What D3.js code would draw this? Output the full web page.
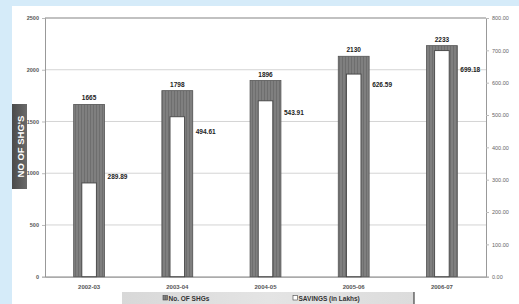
<!DOCTYPE html>
<html>
<head>
<meta charset="utf-8">
<script src="https://cdn.jsdelivr.net/npm/d3@7"></script>
<style>
html,body{margin:0;padding:0;background:#d5ebf9;}
svg{display:block;font-family:"Liberation Sans",Arial,sans-serif;}
</style>
</head>
<body>
<svg id="c" width="519" height="304"></svg>
<script>
const categories = ["2002-03","2003-04","2004-05","2005-06","2006-07"];
const shgs = [1665, 1798, 1896, 2130, 2233];
const savings = [289.89, 494.61, 543.91, 626.59, 699.18];
const leftTicks = [0, 500, 1000, 1500, 2000, 2500];
const rightTicks = [0, 100, 200, 300, 400, 500, 600, 700, 800];
const seriesNames = ["No. OF SHGs", "SAVINGS (in Lakhs)"];
const yTitle = "NO OF SHG'S";

const svg = d3.select("#c");
const W = 519, H = 304;
const m = {l:45, r:486, t:18, b:276.7};

// panel
svg.append("rect").attr("x",12).attr("y",6).attr("width",W-12).attr("height",H-6).attr("fill","#fff");

const defs = svg.append("defs");
const pat = defs.append("pattern").attr("id","stripe").attr("patternUnits","userSpaceOnUse")
  .attr("width",3).attr("height",4);
pat.append("rect").attr("width",3).attr("height",4).attr("fill","#7f7f7f");
pat.append("rect").attr("width",1).attr("height",4).attr("fill","#6e6e6e");
const lg = defs.append("linearGradient").attr("id","tg").attr("x1",0).attr("x2",1).attr("y1",0).attr("y2",0);
lg.append("stop").attr("offset","0").attr("stop-color","#4a4a4a");
lg.append("stop").attr("offset","1").attr("stop-color","#6a6a6a");
const lg2 = defs.append("linearGradient").attr("id","lgd").attr("x1",0).attr("x2",1).attr("y1",0).attr("y2",0);
lg2.append("stop").attr("offset","0").attr("stop-color","#d8d8d8");
lg2.append("stop").attr("offset","0.5").attr("stop-color","#e4e4e4");
lg2.append("stop").attr("offset","1").attr("stop-color","#dcdcdc");

const x = d3.scaleBand().domain(categories).range([m.l, m.r]).padding(0);
const yL = d3.scaleLinear().domain([0,2500]).range([m.b, m.t]);
const yR = d3.scaleLinear().domain([0,800]).range([m.b, m.t]);

// gridlines
svg.append("g").selectAll("line").data(leftTicks).join("line")
  .attr("x1",m.l).attr("x2",m.r).attr("y1",d=>yL(d)).attr("y2",d=>yL(d))
  .attr("stroke","#d4d4d4").attr("stroke-width",1);

// axes
const axL = svg.append("g").attr("transform",`translate(${m.l},0)`)
  .call(d3.axisLeft(yL).tickValues(leftTicks).tickSize(3).tickFormat(d3.format("d")));
const axR = svg.append("g").attr("transform",`translate(${m.r},0)`)
  .call(d3.axisRight(yR).tickValues(rightTicks).tickSize(3).tickFormat(d3.format(".2f")));
const axB = svg.append("g").attr("transform",`translate(0,${m.b})`)
  .call(d3.axisBottom(x).tickSize(0).tickPadding(8));
[axL,axR,axB].forEach(a=>{
  a.selectAll("path").attr("stroke","#999");
  a.selectAll("line").attr("stroke","#bbb");
  a.selectAll("text").attr("fill","#555").attr("font-size",5.5).attr("font-weight","bold");
});
axR.selectAll("text").attr("font-weight","normal").attr("fill","#666");
axB.selectAll("text").attr("font-size",6);
axB.select("path").attr("stroke","#888");
// top border
svg.append("line").attr("x1",m.l).attr("x2",m.r).attr("y1",m.t).attr("y2",m.t).attr("stroke","#999");

const bw = x.bandwidth()*0.35;
const iw = x.bandwidth()*0.165;
const cx = d => x(d) + x.bandwidth()/2;

// outer bars
svg.append("g").selectAll("rect").data(shgs).join("rect")
  .attr("x",(d,i)=>cx(categories[i])-bw/2).attr("width",bw)
  .attr("y",d=>yL(d)).attr("height",d=>m.b-yL(d))
  .attr("fill","url(#stripe)").attr("stroke","#555").attr("stroke-width",0.8);
// inner bars
svg.append("g").selectAll("rect").data(savings).join("rect")
  .attr("x",(d,i)=>cx(categories[i])-iw/2).attr("width",iw)
  .attr("y",d=>yR(d)).attr("height",d=>m.b-yR(d))
  .attr("fill","#fff").attr("stroke","#444").attr("stroke-width",0.9);

// labels
svg.append("g").selectAll("text").data(shgs).join("text")
  .attr("x",(d,i)=>cx(categories[i])).attr("y",d=>yL(d)-4)
  .attr("text-anchor","middle").attr("font-size",6.5).attr("font-weight","bold").attr("fill","#222")
  .text(d=>d);
const nudge = [-4, 17, 14, 13, 21];
svg.append("g").selectAll("text").data(savings).join("text")
  .attr("x",(d,i)=>cx(categories[i])+bw/2+3).attr("y",(d,i)=>yR(d)+nudge[i])
  .attr("font-size",6.5).attr("font-weight","bold").attr("fill","#222")
  .text(d=>d3.format(".2f")(d));

// y title
svg.append("rect").attr("x",12).attr("y",104).attr("width",15).attr("height",85).attr("fill","url(#tg)");
svg.append("text").attr("transform","translate(23.5,146.5) rotate(-90)")
  .attr("text-anchor","middle").attr("font-size",9.5).attr("font-weight","bold").attr("fill","#fff")
  .text(yTitle);

// legend
svg.append("rect").attr("x",122).attr("y",292).attr("width",292).attr("height",12).attr("fill","url(#lgd)");
svg.append("line").attr("x1",414).attr("x2",414).attr("y1",292).attr("y2",304).attr("stroke","#222").attr("stroke-width",1);
const lx = [163, 293];
svg.append("rect").attr("x",lx[0]).attr("y",295.5).attr("width",4.5).attr("height",4.5).attr("fill","url(#stripe)").attr("stroke","#444").attr("stroke-width",0.6);
svg.append("rect").attr("x",lx[1]).attr("y",295.5).attr("width",4.5).attr("height",4.5).attr("fill","#fff").attr("stroke","#444").attr("stroke-width",0.6);
svg.append("g").selectAll("text").data(seriesNames).join("text")
  .attr("x",(d,i)=>lx[i]+5.5).attr("y",300.5)
  .attr("font-size",6.5).attr("font-weight","bold").attr("fill","#333").text(d=>d);
</script>
</body>
</html>
